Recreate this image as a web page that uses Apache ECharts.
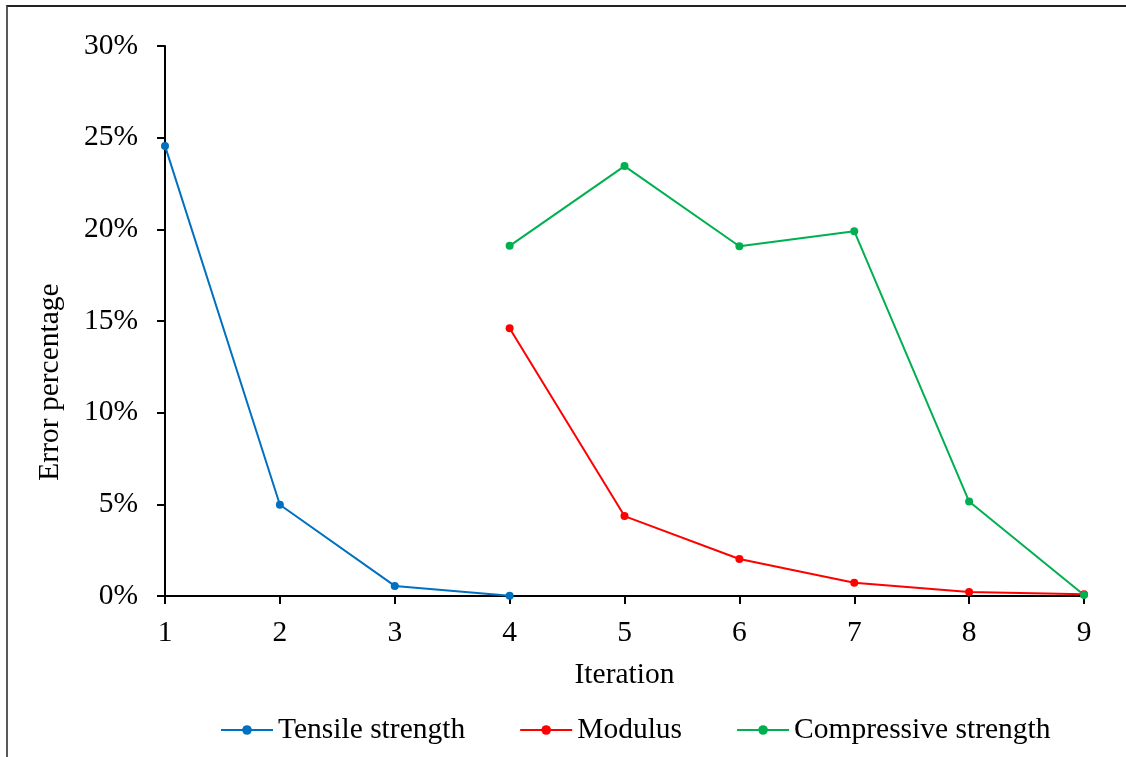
<!DOCTYPE html>
<html>
<head>
<meta charset="utf-8">
<script src="https://cdn.jsdelivr.net/npm/echarts@6/dist/echarts.min.js"></script>
<style>
  html, body { margin: 0; padding: 0; background: #fff; }
  #frame {
    position: absolute; left: 6px; top: 5px; width: 1130px; height: 760px;
    border-left: 2px solid #595959; border-top: 2px solid #222;
  }
  #chart { position: absolute; left: 0; top: 0; width: 1126px; height: 757px; }
</style>
</head>
<body>
<div id="frame"></div>
<div id="chart"></div>
<script>
// 迭代次数
const iterations = ['1', '2', '3', '4', '5', '6', '7', '8', '9'];
// 误差百分比 (%)
const tensileStrength = [24.55, 4.98, 0.55, 0.02, null, null, null, null, null];
const modulus = [null, null, null, 14.6, 4.36, 2.02, 0.72, 0.22, 0.1];
const compressiveStrength = [null, null, null, 19.1, 23.45, 19.08, 19.9, 5.15, 0.05];
const yTicks = [0, 5, 10, 15, 20, 25, 30];

const font = "'Liberation Serif', 'Times New Roman', serif";
const chart = echarts.init(document.getElementById('chart'));

function lineSeries(name, data, color) {
  return {
    name: name,
    type: 'line',
    data: data,
    color: color,
    symbol: 'circle',
    symbolSize: 8,
    clip: false,
    lineStyle: { width: 2, color: color },
    itemStyle: { color: color }
  };
}

chart.setOption({
  animation: false,
  grid: { left: 165, right: 42, top: 46, bottom: 161 },
  legend: {
    top: 710,
    left: 215,
    itemWidth: 52,
    itemHeight: 12,
    itemGap: 54,
    textStyle: { fontFamily: font, fontSize: 29.5, color: '#000' },
    data: ['Tensile strength', 'Modulus', 'Compressive strength']
  },
  xAxis: {
    type: 'category',
    data: iterations,
    boundaryGap: false,
    name: 'Iteration',
    nameLocation: 'middle',
    nameGap: 64,
    nameTextStyle: { fontFamily: font, fontSize: 29.5, color: '#000' },
    axisLine: { lineStyle: { color: '#000', width: 2 } },
    axisTick: { show: true, length: 8, lineStyle: { color: '#000', width: 2 } },
    axisLabel: { fontFamily: font, fontSize: 29.5, color: '#000', margin: 22 },
    splitLine: { show: false }
  },
  yAxis: {
    type: 'value',
    min: yTicks[0],
    max: yTicks[yTicks.length - 1],
    interval: 5,
    axisLine: { show: true, lineStyle: { color: '#000', width: 2 } },
    axisTick: { show: true, length: 8, lineStyle: { color: '#000', width: 2 } },
    axisLabel: {
      fontFamily: font, fontSize: 29.5, color: '#000', margin: 27,
      formatter: v => v + '%'
    },
    splitLine: { show: false }
  },
  graphic: [{
    type: 'text',
    x: 50,
    y: 382,
    rotation: Math.PI / 2,
    style: {
      text: 'Error percentage',
      font: '29.5px ' + font,
      fill: '#000',
      align: 'center',
      verticalAlign: 'middle'
    }
  }],
  series: [
    lineSeries('Tensile strength', tensileStrength, '#0070C0'),
    lineSeries('Modulus', modulus, '#FF0000'),
    lineSeries('Compressive strength', compressiveStrength, '#00B050')
  ]
});
</script>
</body>
</html>
